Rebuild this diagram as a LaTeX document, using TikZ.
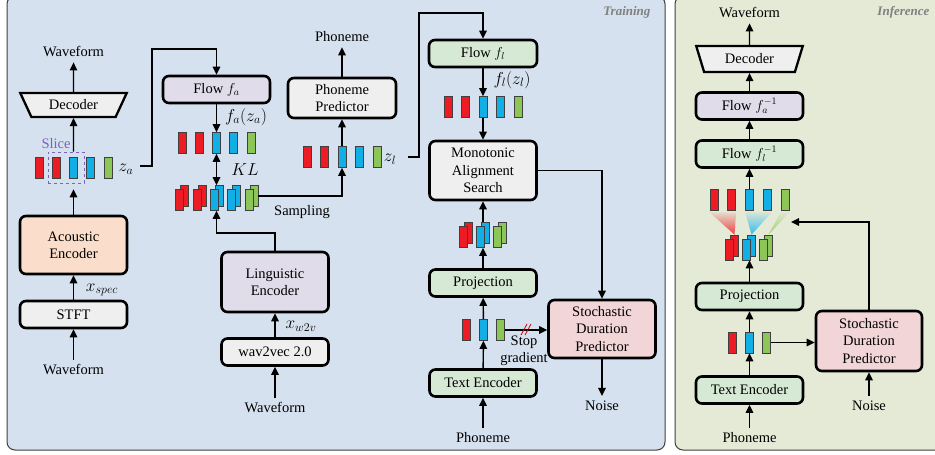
\documentclass[tikz,border=0pt]{standalone}
\usepackage{fontspec}
\setmainfont{Liberation Serif}
\usetikzlibrary{arrows.meta,shapes.geometric,calc}
\definecolor{trainBg}{HTML}{D5E1EE}
\definecolor{inferBg}{HTML}{E4EAD6}
\definecolor{grayFill}{HTML}{EFEFEF}
\definecolor{peachFill}{HTML}{FBDDCB}
\definecolor{lavFill}{HTML}{E1DCEA}
\definecolor{greenFill}{HTML}{D6E9D4}
\definecolor{pinkFill}{HTML}{F2D5D6}
\definecolor{barRed}{HTML}{ED1C24}
\definecolor{barBlue}{HTML}{12AEE6}
\definecolor{barGreen}{HTML}{8CC657}
\definecolor{slicePurple}{HTML}{7B63BA}
\definecolor{panelText}{HTML}{808080}
\newcommand{\diagramFont}{\fontsize{14.5pt}{17.4pt}\selectfont}
\newcommand{\mathFont}{\fontsize{16.5pt}{19pt}\selectfont}
\newcommand{\barRow}[5]{%%
  %% A row of latent frames.
  \foreach \c [count=\i] in {#5}{%%
    \node[barStyle,fill=\c] (#1\i) at ({#2+(\i-1)*#3},#4) {};
  }
}
\newcommand{\stackRow}[5]{%%
  %% Stacked frames: a back copy shifted up and to the right.
  \foreach \c [count=\i] in {#5}{%%
    \node[barStyle,fill=\c] (#1b\i) at ({#2+(\i-1)*#3+5},{#4-4}) {};
    \node[barStyle,fill=\c] (#1f\i) at ({#2+(\i-1)*#3},#4) {};
  }
}
\newcommand{\fadeWedge}[4]{%%
  %% A fading wedge from the frames down to one stacked frame.
  \shade[top color=#4!8!inferBg,bottom color=#4!85]
    ([yshift=-1.5pt]#1.south west) -- ([yshift=-1.5pt]#2.south east) -- (#3.north) -- cycle;
}

\begin{document}
\begin{tikzpicture}[%%
  x=1pt,y=-1pt,font=\diagramFont,%%
  blockStyle/.style={draw,line width=2.6pt,rounded corners=6pt,minimum width=107pt,minimum height=27pt,align=center,inner sep=2pt},%%
  decoderStyle/.style={draw,line width=2.3pt,fill=grayFill,trapezium,shape border rotate=180,trapezium stretches=true,trapezium angle=61,minimum width=107pt,minimum height=24pt,inner sep=1pt},%%
  barStyle/.style={draw=black!75,line width=0.7pt,minimum width=8pt,minimum height=21pt,inner sep=0pt},%%
  arrowStyle/.style={-{Triangle[length=8pt,width=7.5pt]},line width=1.4pt},%%
  dblArrowStyle/.style={{Triangle[length=8pt,width=7.5pt]}-{Triangle[length=8pt,width=7.5pt]},line width=1.4pt},%%
  textStyle/.style={inner sep=5pt},%%
  mathStyle/.style={font=\mathFont},%%
  panelStyle/.style={draw=black!75,line width=1pt,rounded corners=8pt},%%
  panelLabel/.style={font=\fontsize{13pt}{15pt}\selectfont\bfseries\itshape,text=panelText},%%
  cutStyle/.style={draw=red!80!black,line width=0.8pt}%%
]
%%
%% Panels.
\useasboundingbox (0,0) rectangle (935,455);
\draw[panelStyle,fill=trainBg] (7,-4) rectangle (665,450);
\draw[panelStyle,fill=inferBg] (675,-4) rectangle (950,450);
\node[panelLabel,anchor=east] (trainTitle) at (654,12) {Training};
\node[panelLabel,anchor=east] (inferTitle) at (933,12) {Inference};
%%
%% Acoustic branch.
\node[textStyle] (wavTopA) at (73.5,52) {Waveform};
\node[decoderStyle] (decA) at (73.5,105) {Decoder};
\barRow{za}{39}{17.25}{167.5}{barRed,barRed,barBlue,barBlue,barGreen}
\node[draw=slicePurple,dashed,line width=0.8pt,minimum width=36pt,minimum height=31pt,inner sep=0pt] (slice) at (66,167.5) {};
\node[text=slicePurple] (sliceText) at (56,144) {Slice};
\node[mathStyle] (zaText) at (126,169) {$z_a$};
\node[blockStyle,fill=peachFill,minimum height=58pt] (acEnc) at (73.5,245) {Acoustic\\Encoder};
\node[mathStyle] (xspec) at (102,290) {$x_{spec}$};
\node[blockStyle,fill=grayFill] (stft) at (73.5,314.5) {STFT};
\node[textStyle] (wavBotA) at (73.5,370) {Waveform};
\draw[arrowStyle] (wavBotA) -- (stft);
\draw[arrowStyle] (stft) -- (acEnc);
\draw[arrowStyle,shorten >=6pt] (acEnc) -- (slice.south -| acEnc);
\draw[arrowStyle] (slice.north -| decA) -- (decA);
\draw[arrowStyle] (decA) -- (wavTopA);
%%
%% Flow of the acoustic latent.
\node[blockStyle,fill=lavFill] (flowA) at (216.5,89.5) {Flow $f_a$};
\node[mathStyle] (faText) at (246,117) {$f_a(z_a)$};
\barRow{fa}{182}{17.25}{143}{barRed,barRed,barBlue,barBlue,barGreen}
\coordinate (zaOut) at (140,166);
\coordinate (zaTurn) at (152,49);
\draw[arrowStyle] (zaOut) -| (zaTurn) -| (flowA);
\draw[arrowStyle] (flowA) -- (fa3);
\stackRow{stkA}{179.5}{17.4}{200}{barRed,barRed,barBlue,barBlue,barGreen}
\draw[dblArrowStyle] (fa3) -- (fa3 |- stkAb3.north);
\node[mathStyle] (klText) at (245,170) {$KL$};
\node (sampText) at (302,212) {Sampling};
%%
%% Linguistic branch.
\node[blockStyle,fill=lavFill,minimum height=60pt] (lingEnc) at (275,282) {Linguistic\\Encoder};
\coordinate (lingTurn) at (216.5,233);
\draw[arrowStyle] (lingEnc) |- (lingTurn) -- (lingTurn |- stkAf3.south);
\node[mathStyle] (xw2v) at (301,326) {$x_{w2v}$};
\node[blockStyle,fill=grayFill] (w2v) at (275,352) {wav2vec 2.0};
\node[textStyle] (wavBotL) at (275,408) {Waveform};
\draw[arrowStyle] (wavBotL) -- (w2v);
\draw[arrowStyle] (w2v) -- (lingEnc);
%%
%% Phoneme predictor.
\node[blockStyle,fill=grayFill,minimum height=40pt,minimum width=108pt] (phPred) at (342,98) {Phoneme\\Predictor};
\node[textStyle] (phTop) at (342,37) {Phoneme};
\draw[arrowStyle] (phPred) -- (phTop);
\barRow{zl}{307}{17.5}{157}{barRed,barRed,barBlue,barBlue,barGreen}
\draw[arrowStyle] (zl3) -- (phPred);
\draw[arrowStyle] (stkAb5.east) -| (zl3);
\node[mathStyle] (zlText) at (390,159) {$z_l$};
%%
%% Text side of training.
\node[blockStyle,fill=greenFill,minimum width=108pt] (flowL) at (483,53.5) {Flow $f_l$};
\coordinate (zlOut) at (408,157);
\coordinate (zlTurn) at (419,13);
\draw[arrowStyle] (zlOut) -| (zlTurn) -| (flowL);
\node[mathStyle] (flText) at (512,80) {$f_l(z_l)$};
\barRow{fl}{448}{17.5}{107}{barRed,barRed,barBlue,barBlue,barGreen}
\draw[arrowStyle] (flowL) -- (fl3);
\node[blockStyle,fill=grayFill,minimum height=59pt] (mas) at (483,170.5) {Monotonic\\Alignment\\Search};
\draw[arrowStyle] (fl3) -- (mas);
\stackRow{stkT}{463}{17}{237}{barRed,barBlue,barGreen}
\draw[arrowStyle] (mas.south |- stkTb2.north) -- (mas);
\node[blockStyle,fill=greenFill] (projT) at (483,283) {Projection};
\draw[arrowStyle] (projT) -- (projT.north |- stkTf2.south);
\barRow{txT}{466.5}{17}{330}{barRed,barBlue,barGreen}
\draw[arrowStyle] (txT2) -- (projT);
\node[blockStyle,fill=greenFill] (txtEncT) at (483,383) {Text Encoder};
\draw[arrowStyle] (txtEncT) -- (txT2);
\node[textStyle] (phBotT) at (483,438) {Phoneme};
\draw[arrowStyle] (phBotT) -- (txtEncT);
\node[blockStyle,fill=pinkFill,minimum height=58pt] (sdpT) at (602,329) {Stochastic\\Duration\\Predictor};
\draw[arrowStyle] (mas) -| (sdpT);
\draw[arrowStyle] (txT3) -- (txT3 -| sdpT.west);
\coordinate (cutT) at ($(txT3.east)!0.5!(txT3 -| sdpT.west)$);
\draw[cutStyle] ($(cutT)+(-5,5)$) -- ++(6,-11) ($(cutT)+(-1,5)$) -- ++(6,-11);
\node[align=center] (stopText) at (524,351) {Stop\\gradient};
\node[textStyle] (noiseT) at (602,406) {Noise};
\draw[arrowStyle] (sdpT) -- (noiseT);
%%
%% Inference.
\node[textStyle] (wavI) at (749.5,13) {Waveform};
\node[decoderStyle,trapezium angle=70,minimum height=26pt] (decI) at (749.5,59) {Decoder};
\node[blockStyle,fill=lavFill] (flowAI) at (749.5,106) {Flow $f_a^{-1}$};
\node[blockStyle,fill=greenFill] (flowLI) at (749.5,154) {Flow $f_l^{-1}$};
\barRow{lI}{714}{17.75}{200}{barRed,barRed,barBlue,barBlue,barGreen}
\stackRow{stkI}{729.5}{17}{249.5}{barRed,barBlue,barGreen}
\fadeWedge{lI1}{lI2}{stkIb1}{barRed}
\fadeWedge{lI3}{lI4}{stkIb2}{barBlue}
\fadeWedge{lI5}{lI5}{stkIb3}{barGreen}
\draw[arrowStyle] (decI) -- (wavI);
\draw[arrowStyle] (flowAI) -- (decI);
\draw[arrowStyle] (flowLI) -- (flowAI);
\draw[arrowStyle] (lI3) -- (flowLI);
\node[blockStyle,fill=greenFill] (projI) at (749.5,296.5) {Projection};
\draw[arrowStyle] (projI) -- (projI.north |- stkIf2.south);
\barRow{txI}{732.5}{17}{342.5}{barRed,barBlue,barGreen}
\draw[arrowStyle] (txI2) -- (projI);
\node[blockStyle,fill=greenFill] (txtEncI) at (749.5,390) {Text Encoder};
\draw[arrowStyle] (txtEncI) -- (txI2);
\node[textStyle] (phI) at (749.5,438) {Phoneme};
\draw[arrowStyle] (phI) -- (txtEncI);
\node[blockStyle,fill=pinkFill,minimum height=60pt,minimum width=106pt] (sdpI) at (869,341) {Stochastic\\Duration\\Predictor};
\draw[arrowStyle] (txI3) -- (txI3 -| sdpI.west);
\node[textStyle] (noiseI) at (869,406) {Noise};
\draw[arrowStyle] (noiseI) -- (sdpI);
\coordinate (durIn) at (791,222);
\draw[arrowStyle] (sdpI) |- (durIn);
\end{tikzpicture}
\end{document}
